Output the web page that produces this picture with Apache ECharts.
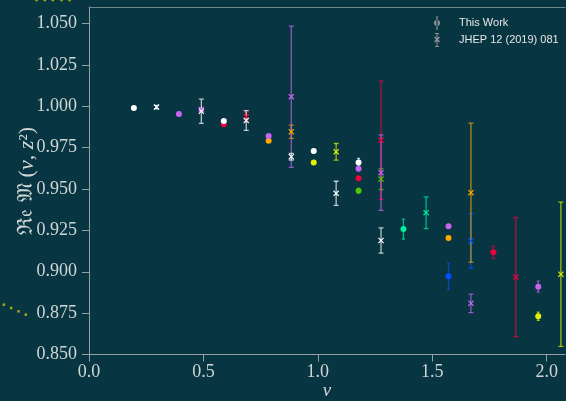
<!DOCTYPE html>
<html>
<head>
<meta charset="utf-8">
<script src="https://cdn.jsdelivr.net/npm/echarts@6/dist/echarts.min.js"></script>
<style>
  html, body { margin: 0; padding: 0; background: #073642; }
  #chart { width: 566px; height: 401px; }
</style>
</head>
<body>
<div id="chart"></div>
<script>
// Colour for each z value (index = z - 1)
const zColours = ['#ffffff', '#c864f0', '#f0003c', '#ffa800', '#e0f000', '#50c800', '#00f0a0', '#0050ff'];

// This Work: Ioffe time nu, Re M, uncertainty, z
const workNu  = [0.196, 0.393, 0.589, 0.589, 0.785, 0.785, 0.982, 0.982, 1.178, 1.178, 1.178, 1.178, 1.374, 1.571, 1.571, 1.571, 1.767, 1.963, 1.963];
const workRe  = [0.9989, 0.9953, 0.9911, 0.9891, 0.9820, 0.9792, 0.9730, 0.9661, 0.9661, 0.9623, 0.9565, 0.9490, 0.9258, 0.9275, 0.9204, 0.8973, 0.9118, 0.8910, 0.8731];
const workErr = [0.0004, 0.0005, 0.0005, 0.0006, 0.0006, 0.0008, 0.0006, 0.0008, 0.0024, 0.0012, 0.0010, 0.0014, 0.0060, 0.0010, 0.0010, 0.0079, 0.0037, 0.0033, 0.0025];
const workZ   = [1, 2, 1, 3, 2, 4, 1, 5, 1, 2, 3, 6, 7, 2, 4, 8, 3, 2, 5];

// JHEP 12 (2019) 081: nu, Re M, uncertainty, z
const jhepNu  = [0.295, 0.491, 0.491, 0.687, 0.687, 0.884, 0.884, 0.884, 1.080, 1.080, 1.276, 1.276, 1.276, 1.276, 1.473, 1.669, 1.669, 1.669, 1.865, 2.062];
const jhepRe  = [0.9995, 0.9970, 0.9980, 0.9914, 0.9937, 0.9695, 1.0058, 0.9846, 0.9474, 0.9725, 0.9189, 0.9599, 0.9795, 0.9560, 0.9357, 0.8809, 0.9478, 0.9186, 0.8968, 0.8985];
const jhepErr = [0.0010, 0.0073, 0.0010, 0.0060, 0.0028, 0.0020, 0.0427, 0.0040, 0.0073, 0.0050, 0.0076, 0.0228, 0.0357, 0.0063, 0.0096, 0.0056, 0.0420, 0.0165, 0.0360, 0.0436];
const jhepZ   = [1, 1, 2, 1, 3, 1, 2, 4, 1, 5, 1, 2, 3, 6, 7, 2, 4, 8, 3, 5];

// Points lying beyond the plotted range
const outsideNu = [-0.229, -0.193, -0.158, -0.120, -0.085, -0.372, -0.340, -0.308, -0.276];
const outsideRe = [1.0642, 1.0642, 1.0642, 1.0642, 1.0642, 0.8801, 0.8781, 0.8761, 0.8741];

// Axis ticks
const xTicks = [0.0, 0.5, 1.0, 1.5, 2.0];
const yTicks = [0.850, 0.875, 0.900, 0.925, 0.950, 0.975, 1.000, 1.025, 1.050];

const axisColour = '#93a1a1';
const labelColour = '#d0d6d5';
const crossPath = 'path://M0,1.4 L1.4,0 L5,3.6 L8.6,0 L10,1.4 L6.4,5 L10,8.6 L8.6,10 L5,6.4 L1.4,10 L0,8.6 L3.6,5 Z';

function errorBars(name, nu, re, err, zs, cap, alpha) {
  const data = nu.map((v, i) => [v, re[i] - err[i], re[i] + err[i], zs[i]])
                 .sort((a, b) => b[3] - a[3]);
  return {
    type: 'custom',
    name: name,
    data: data,
    encode: { x: 0, y: [1, 2] },
    clip: true,
    z: 2,
    renderItem: function (params, api) {
      const lo = api.coord([api.value(0), api.value(1)]);
      const hi = api.coord([api.value(0), api.value(2)]);
      const style = { stroke: zColours[api.value(3) - 1], lineWidth: 1.3, opacity: alpha };
      return {
        type: 'group',
        children: [
          { type: 'line', shape: { x1: lo[0], y1: lo[1], x2: hi[0], y2: hi[1] }, style: style },
          { type: 'line', shape: { x1: lo[0] - cap, y1: lo[1], x2: lo[0] + cap, y2: lo[1] }, style: style },
          { type: 'line', shape: { x1: hi[0] - cap, y1: hi[1], x2: hi[0] + cap, y2: hi[1] }, style: style }
        ]
      };
    }
  };
}

function markers(name, nu, re, zs, symbol, size) {
  return {
    type: 'scatter',
    name: name,
    data: nu.map((v, i) => [v, re[i], zs[i]]).sort((a, b) => b[2] - a[2]),
    symbol: symbol,
    symbolSize: size,
    z: 3,
    itemStyle: {
      color: function (p) { return zColours[p.value[2] - 1]; },
      opacity: 1
    }
  };
}

const chart = echarts.init(document.getElementById('chart'), null, { renderer: 'canvas' });

chart.setOption({
  backgroundColor: '#073642',
  animation: false,
  grid: { left: 89, top: 7, width: 476, height: 347.5, containLabel: false, outerBoundsMode: 'none' },
  legend: {
    orient: 'vertical',
    left: 434,
    top: 16,
    padding: 0,
    itemGap: 3,
    itemWidth: 10,
    itemHeight: 14,
    selectedMode: false,
    textStyle: { color: '#e6e6e6', fontFamily: 'Liberation Sans', fontSize: 11, padding: [0, 0, 0, 12] },
    data: [
      { name: 'This Work', icon: 'path://M4.4,0 h1.2 v14 h-1.2 Z M5,4 a3,3 0 1 0 0.001,0 Z', itemStyle: { color: '#8e9292' } },
      { name: 'JHEP 12 (2019) 081', icon: 'path://M4.5,0 h1 v14 h-1 Z M3,0 h4 v1 h-4 Z M3,13 h4 v1 h-4 Z M2,4.5 L3,3.5 L5,5.5 L7,3.5 L8,4.5 L6,6.5 L8,8.5 L7,9.5 L5,7.5 L3,9.5 L2,8.5 L4,6.5 Z', itemStyle: { color: '#8e9292' } }
    ]
  },
  xAxis: [{
    type: 'value',
    min: 0,
    max: 2.08,
    name: 'ν',
    nameLocation: 'middle',
    nameGap: 27,
    nameMoveOverlap: false,
    nameTextStyle: { color: labelColour, fontFamily: 'Liberation Serif', fontStyle: 'italic', fontSize: 19 },
    axisLine: { show: true, lineStyle: { color: axisColour, width: 1 } },
    axisTick: { show: true, length: 7, lineStyle: { color: axisColour }, customValues: xTicks },
    axisLabel: {
      color: labelColour, fontFamily: 'Liberation Serif', fontSize: 18, margin: 9,
      customValues: xTicks,
      formatter: v => v.toFixed(1)
    },
    splitLine: { show: false }
  }, {
    type: 'value',
    position: 'top',
    min: 0,
    max: 2.08,
    axisLine: { show: true, lineStyle: { color: '#71878a', width: 1 } },
    axisTick: { show: false },
    axisLabel: { show: false },
    splitLine: { show: false }
  }],
  yAxis: {
    type: 'value',
    min: 0.85,
    max: 1.06,
    name: '{f|ℜ𝔢 𝔐}{n| (}{i|ν}{n|, }{i|z}{n|²)}',
    nameLocation: 'middle',
    nameRotate: 90,
    nameGap: 51,
    nameMoveOverlap: false,
    nameTextStyle: {
      color: labelColour,
      rich: {
        f: { fontFamily: 'DejaVu Serif', fontSize: 21, color: labelColour },
        n: { fontFamily: 'Liberation Serif', fontSize: 22, color: labelColour },
        i: { fontFamily: 'Liberation Serif', fontStyle: 'italic', fontSize: 22, color: labelColour }
      }
    },
    axisLine: { show: true, lineStyle: { color: axisColour, width: 1 } },
    axisTick: { show: true, length: 7, lineStyle: { color: axisColour }, customValues: yTicks },
    axisLabel: {
      color: labelColour, fontFamily: 'Liberation Serif', fontSize: 18, margin: 12,
      customValues: yTicks,
      formatter: v => v.toFixed(3)
    },
    splitLine: { show: false }
  },
  series: [
    errorBars('This Work', workNu, workRe, workErr, workZ, 1.5, 0.7),
    errorBars('JHEP 12 (2019) 081', jhepNu, jhepRe, jhepErr, jhepZ, 2.5, 0.7),
    markers('This Work', workNu, workRe, workZ, 'circle', 6),
    markers('JHEP 12 (2019) 081', jhepNu, jhepRe, jhepZ, crossPath, 6),
    {
      type: 'scatter',
      name: 'outside',
      data: outsideNu.map((v, i) => [v, outsideRe[i]]),
      symbol: 'rect',
      symbolSize: 2.5,
      clip: false,
      silent: true,
      itemStyle: { color: '#d6c200' }
    }
  ]
});
</script>
</body>
</html>
